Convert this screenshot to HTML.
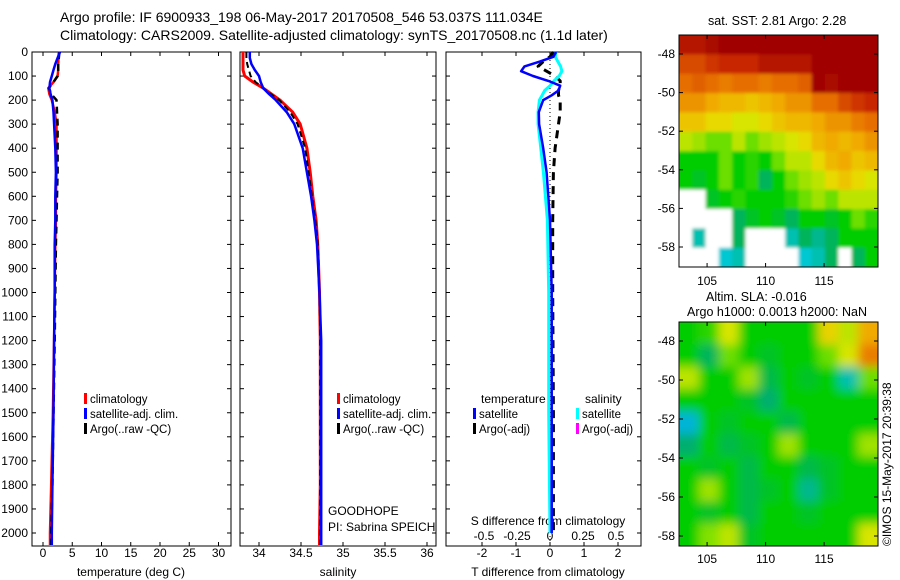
<!DOCTYPE html>
<html><head><meta charset="utf-8"><style>
body{margin:0;background:#fff;}
svg{display:block;font-family:"Liberation Sans",sans-serif;}
</style></head><body>
<svg id="fig" width="900" height="580" viewBox="0 0 900 580">
<text x="60" y="22" font-size="14">Argo profile: IF 6900933_198 06-May-2017 20170508_546 53.037S 111.034E</text>
<text x="60" y="40" font-size="14">Climatology: CARS2009. Satellite-adjusted climatology: synTS_20170508.nc (1.1d later)</text>
<text x="708" y="25" font-size="12.5">sat. SST: 2.81 Argo: 2.28</text>
<text x="706" y="301" font-size="12.5">Altim. SLA: -0.016</text>
<text x="687" y="316" font-size="12.5">Argo h1000: 0.0013 h2000: NaN</text>
<text transform="translate(891,546) rotate(-90)" font-size="12">©IMOS 15-May-2017 20:39:38</text>
<g id="plots"></g>
</svg>
<script>
// ---------- data ----------
const depths = [0,25,50,75,100,125,150,175,200,250,300,400,500,600,700,800,1000,1200,1500,1800,2000,2050];
const tempClim = [2.7,2.65,2.6,2.6,2.5,1.8,0.9,1.1,1.5,2.0,2.3,2.3,2.3,2.2,2.2,2.1,2.0,1.9,1.7,1.4,1.2,1.2];
const tempSat  = [2.9,2.5,2.1,1.8,1.5,1.2,1.1,1.3,1.6,1.8,1.9,2.1,2.2,2.1,2.1,2.0,2.0,1.9,1.8,1.6,1.5,1.5];
const tempArgo = [2.8,2.7,2.6,2.6,2.5,1.8,1.0,1.4,2.3,2.4,2.5,2.5,2.5,2.4,2.3,2.2,2.1,2.0,1.8,1.6,1.4,1.4];
const salClim = [33.81,33.81,33.81,33.81,33.83,33.93,34.05,34.15,34.25,34.40,34.49,34.57,34.61,34.64,34.68,34.70,34.72,34.73,34.73,34.73,34.72,34.72];
const salSat  = [33.89,33.89,33.91,33.95,34.00,34.02,34.05,34.12,34.20,34.33,34.42,34.52,34.57,34.62,34.66,34.69,34.72,34.74,34.74,34.74,34.74,34.74];
const salArgo = [33.85,33.85,33.86,33.88,33.90,33.96,34.05,34.14,34.24,34.37,34.46,34.55,34.59,34.63,34.67,34.70,34.72,34.73,34.73,34.73,34.73,34.73];
const dDepths = [0,20,40,60,80,100,120,140,160,180,200,250,300,400,500,700,1000,1500,2000];
const tDiffSat  = [0.18,0.1,-0.3,-0.75,-0.85,-0.5,-0.05,0.3,0.25,0.05,-0.2,-0.33,-0.32,-0.2,-0.1,0.0,0.05,0.05,0.05];
const sDiffSat  = [0.045,0.04,0.06,0.08,0.09,0.07,0.03,0.0,-0.04,-0.06,-0.08,-0.09,-0.09,-0.07,-0.05,-0.02,-0.01,-0.01,0.0];
const tDiffArgo = [0.1,0.0,-0.2,-0.35,-0.1,0.15,0.3,0.3,0.25,0.25,0.3,0.3,0.25,0.15,0.1,0.08,0.08,0.1,0.1];
const depthTicks = [0,100,200,300,400,500,600,700,800,900,1000,1100,1200,1300,1400,1500,1600,1700,1800,1900,2000];
const tempTicks = [0,5,10,15,20,25,30];
const salTicks = [34,34.5,35,35.5,36];
const salTickLabels = ["34","34.5","35","35.5","36"];
const tdTicks = [-2,-1,0,1,2];
const sdTicks = [-0.5,-0.25,0,0.25,0.5];
const sdTickLabels = ["-0.5","-0.25","0","0.25","0.5"];
const latTicks = [-48,-50,-52,-54,-56,-58];
const lonTicks = [105,110,115];
const sstGrid = [
[.95,.95,.98,1,1,1,1,1,1,1,1,1,1,1,1],
[.85,.85,.88,.9,.9,.9,.95,.95,.95,.95,1,1,1,1,1],
[.8,.82,.8,.78,.8,.8,.78,.8,.8,.82,1,.98,1,1,1],
[.75,.75,.72,.7,.7,.68,.7,.72,.75,.75,.8,.8,.85,.88,.9],
[.68,.68,.65,.65,.62,.62,.65,.68,.7,.7,.72,.75,.75,.78,.8],
[.6,.58,.55,.55,.6,.55,.58,.6,.62,.65,.7,.72,.7,.72,.75],
[.5,.5,.5,.55,.5,.52,.5,.55,.6,.6,.65,.7,.72,.68,.7],
[.5,.48,.5,.55,.5,.52,.45,.5,.55,.58,.6,.65,.68,.65,.62],
[-1,-1,.48,.5,.52,.5,.5,.5,.52,.55,.58,.55,.6,.6,.6],
[-1,-1,-1,-1,.45,.48,.5,.48,.45,.5,.5,.48,.5,.55,.52],
[-1,.4,-1,-1,.45,-1,-1,-1,.4,.45,.42,.45,.5,.5,.5],
[-1,-1,-1,.38,.4,-1,-1,-1,-1,.38,.4,.45,-1,.45,.5]];
const slaGrid = [
[.5,.52,.62,.5,.5,.5,.5,.66,.6,.72],
[.5,.45,.55,.5,.48,.5,.5,.55,.62,.78],
[.6,.5,.5,.58,.46,.5,.48,.5,.4,.55],
[.5,.5,.5,.48,.44,.5,.5,.5,.5,.5],
[.36,.5,.48,.5,.5,.46,.5,.5,.5,.5],
[.44,.5,.46,.48,.5,.58,.5,.5,.5,.58],
[.5,.48,.5,.46,.5,.5,.46,.48,.5,.5],
[.5,.58,.5,.46,.48,.5,.42,.48,.5,.5],
[.5,.48,.5,.46,.5,.5,.48,.5,.5,.5],
[.5,.56,.6,.48,.5,.5,.5,.5,.5,.62]];

// ---------- helpers ----------
const NS="http://www.w3.org/2000/svg";
const root=document.getElementById('plots');
function mk(tag,attrs,parent){const e=document.createElementNS(NS,tag);for(const k in attrs)e.setAttribute(k,attrs[k]);(parent||root).appendChild(e);return e;}
const Y0=52,Y1=546;
const yD=d=>Y0+d*0.2405;
const xT=v=>43+v*5.85;
const xS=v=>259+(v-34)*84;
const xTd=v=>550+v*34;
const xSd=v=>550+v*132;

function panel(x0,x1,name){
  const r=mk('rect',{x:x0,y:Y0,width:x1-x0,height:Y1-Y0,fill:'none',stroke:'#000','stroke-width':1});
  
  
  depthTicks.forEach(d=>{
    mk('line',{x1:x0,x2:x0+4,y1:yD(d),y2:yD(d),stroke:'#000'});
    mk('line',{x1:x1,x2:x1-4,y1:yD(d),y2:yD(d),stroke:'#000'});
  });
}
function xticks(x0,x1,ticks,labels,fx,ly){
  ticks.forEach((t,i)=>{
    const x=fx(t);
    mk('line',{x1:x,x2:x,y1:Y0,y2:Y0+4,stroke:'#000'});
    mk('line',{x1:x,x2:x,y1:Y1,y2:Y1-4,stroke:'#000'});
    const tx=mk('text',{x:x,y:ly,'font-size':12,'text-anchor':'middle'});
    tx.textContent=labels[i];
    
    
  });
}
function line(xs,ds,fx,color,w,name,dash){
  const pts=xs.map((v,i)=>fx(v).toFixed(1)+','+yD(ds[i]).toFixed(1)).join(' ');
  const a={points:pts,fill:'none',stroke:color,'stroke-width':w,'stroke-linejoin':'round'};
  if(dash)a['stroke-dasharray']=dash;
  const p=mk('polyline',a);
  
  
}
function txt(x,y,s,name,size,anchor){
  const t=mk('text',{x:x,y:y,'font-size':size||12,'text-anchor':anchor||'start'});
  t.textContent=s;
  
  
}
function legendEntry(x,y,color,label){
  mk('rect',{x:x,y:y-10,width:3,height:11,fill:color});
  txt(x+6,y,label,'legend-entry',11.5);
}

// ---------- panel 1: temperature ----------
panel(32,231,'temperature-panel');
depthTicks.forEach(d=>txt(28,yD(d)+4,String(d),'y-tick-label',12,'end'));
xticks(32,231,tempTicks,tempTicks.map(String),xT,557);
txt(131,576,'temperature (deg C)','x-axis-title',12,'middle');
line(tempClim,depths,xT,'#f00',2.5,'temp-climatology-line');
line(tempArgo,depths,xT,'#000',2.5,'temp-argo-line','7,5');
line(tempSat,depths,xT,'#00f',2.5,'temp-satellite-line');
legendEntry(84,403,'#f00','climatology');
legendEntry(84,418,'#00f','satellite-adj. clim.');
legendEntry(84,433,'#000','Argo(..raw -QC)');

// ---------- panel 2: salinity ----------
panel(240,436,'salinity-panel');
xticks(240,436,salTicks,salTickLabels,xS,557);
txt(338,576,'salinity','x-axis-title',12,'middle');
line(salClim,depths,xS,'#f00',3,'sal-climatology-line');
line(salArgo,depths,xS,'#000',2,'sal-argo-line','6,4');
line(salSat,depths,xS,'#00f',2.5,'sal-satellite-line');
legendEntry(337,403,'#f00','climatology');
legendEntry(337,418,'#00f','satellite-adj. clim.');
legendEntry(337,433,'#000','Argo(..raw -QC)');
txt(328,515,'GOODHOPE','project-label');
txt(328,531,'PI: Sabrina SPEICH','pi-label');

// ---------- panel 3: differences ----------
panel(446,641,'difference-panel');
xticks(446,641,tdTicks,tdTicks.map(String),xTd,557);
sdTicks.forEach((t,i)=>txt(xSd(t),540,sdTickLabels[i],'s-diff-tick-label',12,'middle'));
txt(548,525,'S difference from climatology','s-diff-title',12,'middle');
txt(548,576,'T difference from climatology','x-axis-title',12,'middle');
mk('line',{x1:xTd(0),x2:xTd(0),y1:Y0,y2:Y1,stroke:'#000','stroke-dasharray':'1,3'});
line(tDiffArgo,dDepths,xTd,'#000',3,'t-diff-argo-line','8,6');
line(sDiffSat,dDepths,xSd,'#0ff',3,'s-diff-satellite-line');
line(tDiffSat,dDepths,xTd,'#00f',2.5,'t-diff-satellite-line');
txt(481,403,'temperature','legend-heading');
txt(585,403,'salinity','legend-heading');
legendEntry(473,418,'#00f','satellite');
legendEntry(576,418,'#0ff','satellite');
legendEntry(473,433,'#000','Argo(-adj)');
legendEntry(576,433,'#f0f','Argo(-adj)');

// ---------- maps ----------
const cmapStops=[0.30,0.38,0.44,0.50,0.56,0.63,0.72,0.80,0.90,1.0];
const cmapColors=[[0,120,230],[0,200,210],[0,175,110],[0,205,0],[130,225,0],[230,230,0],[240,170,0],[230,110,0],[200,40,0],[160,0,0]];
function cmap(v){
  if(v<=cmapStops[0])return `rgb(${cmapColors[0]})`;
  for(let i=1;i<cmapStops.length;i++){
    if(v<=cmapStops[i]){
      const t=(v-cmapStops[i-1])/(cmapStops[i]-cmapStops[i-1]);
      const a=cmapColors[i-1],b=cmapColors[i];
      return `rgb(${a.map((c,k)=>Math.round(c+(b[k]-c)*t)).join(',')})`;
    }
  }
  return `rgb(${cmapColors[cmapColors.length-1]})`;
}
const defs=mk('defs',{});
const f=mk('filter',{id:'blur',x:'-5%',y:'-5%',width:'110%',height:'110%'},defs);
mk('feGaussianBlur',{stdDeviation:5},f);
const f2=mk('filter',{id:'blur2',x:'-2%',y:'-2%',width:'104%',height:'104%'},defs);
mk('feGaussianBlur',{stdDeviation:1.5},f2);
const cp=mk('clipPath',{id:'clipB'},defs);
mk('rect',{x:679,y:322,width:199,height:224},cp);
const cpA=mk('clipPath',{id:'clipA'},defs);
mk('rect',{x:679,y:35,width:199,height:232},cpA);
function map(grid,x0,y0,w,h,name,blurId,clipId,lat0,latPx,lonY){
  const g=mk('g',{'clip-path':`url(#${clipId})`});
  const gi=mk('g',{filter:`url(#${blurId})`},g);
  const rows=grid.length,cols=grid[0].length;
  const cw=w/cols,ch=h/rows;
  const pad=10;
  grid.forEach((row,r)=>row.forEach((v,c)=>{
    const e=mk('rect',{x:(x0+c*cw-(c===0?pad:0)).toFixed(2),y:(y0+r*ch-(r===0?pad:0)).toFixed(2),width:(cw+0.6+(c===0||c===cols-1?pad:0)).toFixed(2),height:(ch+0.6+(r===0||r===rows-1?pad:0)).toFixed(2),fill:v<0?'#fff':cmap(v)},gi);
    
    
  }));
  const fr=mk('rect',{x:x0,y:y0,width:w,height:h,fill:'none',stroke:'#000'});
  
  
  latTicks.forEach(l=>{
    const y=lat0+(-48-l)*latPx;
    mk('line',{x1:x0,x2:x0+4,y1:y,y2:y,stroke:'#000'});
    mk('line',{x1:x0+w,x2:x0+w-4,y1:y,y2:y,stroke:'#000'});
    txt(x0-4,y+4,String(l),'lat-tick-label',12,'end');
  });
  lonTicks.forEach(l=>{
    const x=x0+(l-102.6)*11.7;
    mk('line',{x1:x,x2:x,y1:y0,y2:y0+4,stroke:'#000'});
    mk('line',{x1:x,x2:x,y1:y0+h,y2:y0+h-4,stroke:'#000'});
    txt(x,lonY,String(l),'lon-tick-label',12,'middle');
  });
}
map(sstGrid,679,35,199,232,'sst-map','blur2','clipA',54,19.3,285);
map(slaGrid,679,322,199,224,'sla-map','blur','clipB',341,19.5,563);
</script>
</body></html>
